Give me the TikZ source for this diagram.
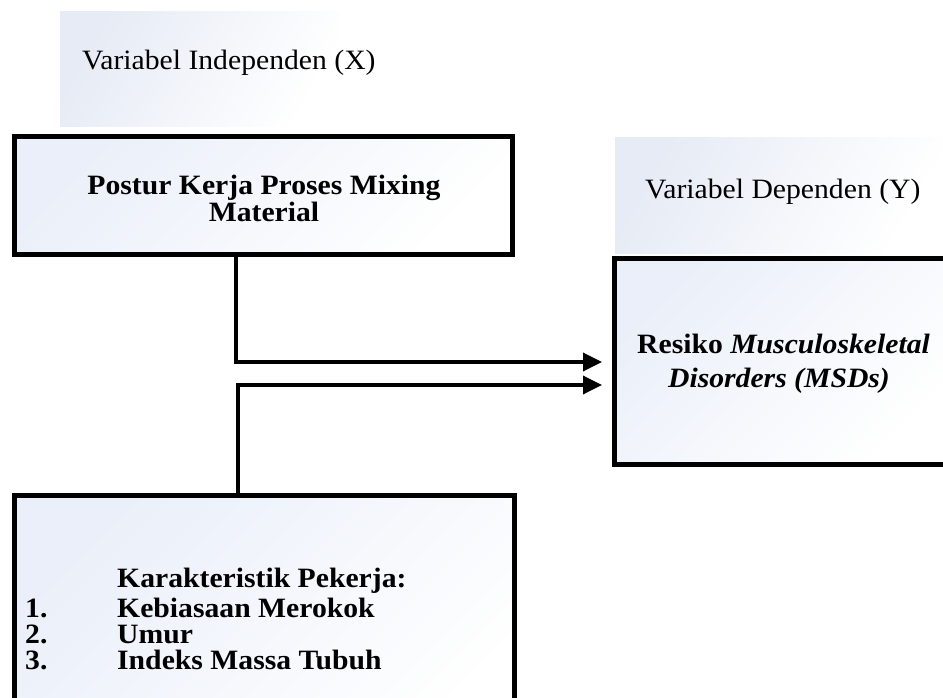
\documentclass[tikz,border=0pt]{standalone}
\usepackage{fontspec}
\setmainfont{Liberation Serif}[FakeStretch=1.06]
\usetikzlibrary{arrows.meta}
\definecolor{lblue}{RGB}{230,235,245}
\definecolor{bblue}{RGB}{234,239,249}
\begin{document}
\begin{tikzpicture}[x=1pt,y=-1pt,
  box/.style={draw=black, line width=5pt, top color=bblue, bottom color=white, shading angle=45, inner sep=0pt},
  conn/.style={line width=3.5pt, -{Triangle[length=19pt,width=18pt]}},
  txt/.style={inner sep=0pt, font=\fontsize{28}{26}\selectfont},
  btxt/.style={inner sep=0pt, font=\fontsize{28}{26}\selectfont\bfseries},
  lab/.style={top color=lblue, bottom color=white, shading angle=60}]
\useasboundingbox (0,0) rectangle (943,698);
\clip (0,0) rectangle (943,698);
% label backgrounds
\fill[lab] (60,12) rectangle (340,127);
\fill[lab] (615,138) rectangle (943,253);
% boxes
\node[box, minimum width=498pt, minimum height=118pt] (postur) at (263.5,195.5) {};
\node[box, minimum width=338pt, minimum height=206pt] (msd) at (783.5,361.5) {};
\node[box, minimum width=500pt, minimum height=265pt] (karak) at (264.5,628) {};
% connectors
\coordinate (xa) at (236,0);
\coordinate (xb) at (238,0);
\coordinate (ta) at (602,362);
\coordinate (tb) at (602,385);
\draw[conn] (xa |- postur.south) |- (ta);
\draw[conn] (xb |- karak.north) |- (tb);
% texts
\node[txt, anchor=base west] (lx) at (82,70) {Variabel Independen (X)};
\node[txt, anchor=base west] (ly) at (645,199) {Variabel Dependen (Y)};
\node[btxt, anchor=base] (p1) at (264,195) {Postur Kerja Proses Mixing};
\node[btxt, anchor=base] (p2) at (264,222) {Material};
\node[btxt, anchor=base] (r1) at (783.5,353) {Resiko \textit{Musculoskeletal}};
\node[btxt, anchor=base] (r2) at (779,387) {\textit{Disorders (MSDs)}};
\node[btxt, anchor=base west] (k0) at (117,587) {Karakteristik Pekerja:};
\node[btxt, anchor=base west] (n1) at (25,617) {1.};
\node[btxt, anchor=base west] (k1) at (117,617) {Kebiasaan Merokok};
\node[btxt, anchor=base west] (n2) at (25,643) {2.};
\node[btxt, anchor=base west] (k2) at (117,643) {Umur};
\node[btxt, anchor=base west] (n3) at (25,669) {3.};
\node[btxt, anchor=base west] (k3) at (117,669) {Indeks Massa Tubuh};
\end{tikzpicture}
\end{document}
